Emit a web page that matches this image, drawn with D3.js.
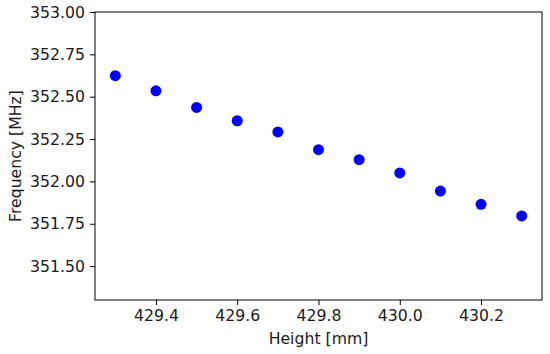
<!DOCTYPE html>
<html>
<head>
<meta charset="utf-8">
<script src="https://cdn.jsdelivr.net/npm/d3@7"></script>
<style>
  body { margin: 0; background: #fff; }
  svg { display: block; font-family: "DejaVu Sans", sans-serif; }
</style>
</head>
<body>
<div id="chart"></div>
<script>
const width = 550;
const height = 354;
const margin = { top: 12, right: 8, bottom: 54, left: 95 };
const fontSize = "15.7px";

// data
const heights = [429.3, 429.4, 429.5, 429.6, 429.7, 429.8, 429.9, 430.0, 430.1, 430.2, 430.3];
const freqs = [352.624, 352.535, 352.437, 352.358, 352.292, 352.187, 352.128, 352.050, 351.943, 351.865, 351.796];
const xTicks = [429.4, 429.6, 429.8, 430.0, 430.2];
const yTicks = [351.5, 351.75, 352.0, 352.25, 352.5, 352.75, 353.0];

const svg = d3.select("div#chart")
  .append("svg")
  .attr("width", width)
  .attr("height", height);

const innerW = width - margin.left - margin.right;
const innerH = height - margin.top - margin.bottom;

const x = d3.scaleLinear().domain([429.25, 430.35]).range([0, innerW]);
const y = d3.scaleLinear().domain([351.3, 353.0]).range([innerH, 0]);

const g = svg.append("g")
  .attr("transform", `translate(${margin.left}, ${margin.top})`);

// points
g.selectAll("circle")
  .data(heights.map((h, i) => ({ h: h, f: freqs[i] })))
  .enter()
  .append("circle")
  .attr("cx", (d) => x(d.h))
  .attr("cy", (d) => y(d.f))
  .attr("r", 5.5)
  .attr("fill", "#0000ff");

// axes
const xAxis = d3.axisBottom(x).tickValues(xTicks).tickFormat(d3.format(".1f"))
  .tickSizeInner(5).tickSizeOuter(0).tickPadding(5);
const yAxis = d3.axisLeft(y).tickValues(yTicks).tickFormat(d3.format(".2f"))
  .tickSizeInner(5).tickSizeOuter(0).tickPadding(5);

const xg = g.append("g")
  .attr("transform", `translate(0, ${innerH})`)
  .call(xAxis);
const yg = g.append("g").call(yAxis);

[xg, yg].forEach((a) => {
  a.select(".domain").remove();
  a.selectAll("line").attr("stroke", "#000").attr("stroke-width", 1);
  a.selectAll("text")
    .attr("fill", "#1a1a1a")
    .style("font-size", fontSize)
    .style("font-family", "DejaVu Sans");
});

// frame
g.append("rect")
  .attr("x", 0)
  .attr("y", 0)
  .attr("width", innerW)
  .attr("height", innerH)
  .attr("fill", "none")
  .attr("stroke", "#000")
  .attr("stroke-width", 1);

// labels
svg.append("text")
  .attr("x", margin.left + innerW / 2)
  .attr("y", 344)
  .attr("text-anchor", "middle")
  .style("font-size", fontSize)
  .attr("fill", "#1a1a1a")
  .text("Height [mm]");

svg.append("text")
  .attr("transform", `translate(21, ${margin.top + innerH / 2}) rotate(-90)`)
  .attr("text-anchor", "middle")
  .style("font-size", fontSize)
  .attr("fill", "#1a1a1a")
  .text("Frequency [MHz]");
</script>
</body>
</html>
